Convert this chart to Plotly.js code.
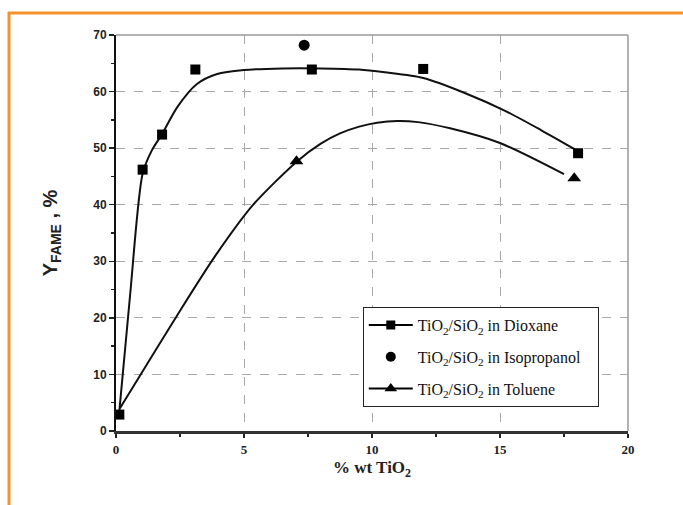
<!DOCTYPE html>
<html>
<head>
<meta charset="utf-8">
<script src="https://cdn.plot.ly/plotly-3.0.1.min.js"></script>
<style>html,body{margin:0;padding:0;background:#fff;}#chart{width:683px;height:505px;}</style>
</head>
<body>
<div id="chart"></div>
<script>
// Measured data points
const dioxaneX = [0.13, 1.04, 1.8, 3.1, 7.65, 12.0, 18.05];
const dioxaneY = [2.9, 46.2, 52.4, 63.9, 63.9, 64.0, 49.1];
const isopropanolX = [7.35];
const isopropanolY = [68.2];
const tolueneX = [7.05, 17.9];
const tolueneY = [47.7, 44.7];

// Fitted curves
const dioxaneFitX = [0.13, 0.55, 1.04, 1.4, 1.8, 2.4, 3.15, 3.95, 5.0, 6.5, 8.0, 9.5, 10.5, 12.0, 13.6, 15.2, 16.6, 18.0];
const dioxaneFitY = [3.5, 24.0, 45.5, 49.6, 52.5, 57.3, 61.3, 63.1, 63.8, 64.1, 64.1, 63.9, 63.4, 62.4, 59.8, 56.6, 53.2, 49.6];
const tolueneFitX = [0.15, 2.37, 3.87, 5.36, 7.08, 8.0, 8.75, 9.5, 10.2, 11.0, 11.8, 13.05, 15.0, 17.5];
const tolueneFitY = [4.0, 20.3, 30.9, 40.0, 47.7, 50.8, 52.6, 53.8, 54.5, 54.8, 54.6, 53.5, 50.9, 45.4];

const legendNames = [
  'TiO<sub>2</sub>/SiO<sub>2</sub> in Dioxane',
  'TiO<sub>2</sub>/SiO<sub>2</sub> in Isopropanol&nbsp;&nbsp;&nbsp;',
  'TiO<sub>2</sub>/SiO<sub>2</sub> in Toluene'
];
const xTicks = [0, 5, 10, 15, 20];
const yTicks = [0, 10, 20, 30, 40, 50, 60, 70];

const fitLine = {color: '#111', width: 2, shape: 'spline', smoothing: 0.75};
const traces = [
  {x: dioxaneFitX, y: dioxaneFitY, mode: 'lines', line: fitLine, showlegend: false, hoverinfo: 'skip'},
  {x: tolueneFitX, y: tolueneFitY, mode: 'lines', line: fitLine, showlegend: false, hoverinfo: 'skip'},
  {x: dioxaneX, y: dioxaneY, mode: 'markers', marker: {symbol: 'square', size: 10, color: '#000'}, showlegend: false, cliponaxis: false},
  {x: isopropanolX, y: isopropanolY, mode: 'markers', marker: {symbol: 'circle', size: 11, color: '#000'}, showlegend: false, cliponaxis: false},
  {x: tolueneX, y: tolueneY, mode: 'markers', marker: {symbol: 'triangle-up', size: 12, color: '#000'}, showlegend: false, cliponaxis: false},
  // legend entries
  {x: [null], y: [null], name: legendNames[0], mode: 'lines+markers', line: {color: '#000', width: 2}, marker: {symbol: 'square', size: 9, color: '#000'}, legendgroup: 'a'},
  {x: [null], y: [null], name: legendNames[1], mode: 'markers', marker: {symbol: 'circle', size: 10, color: '#000'}, legendgroup: 'b'},
  {x: [null], y: [null], name: legendNames[2], mode: 'lines+markers', line: {color: '#000', width: 2}, marker: {symbol: 'triangle-up', size: 11, color: '#000'}, legendgroup: 'c'}
];

const orange = '#F5922A';
const layout = {
  width: 683, height: 505,
  margin: {l: 116, r: 55, t: 35, b: 74},
  paper_bgcolor: '#fff', plot_bgcolor: '#fff',
  showlegend: true,
  legend: {
    x: 0.482, y: 0.313, xanchor: 'left', yanchor: 'top',
    bgcolor: '#fff', bordercolor: '#222', borderwidth: 1,
    font: {family: 'Liberation Serif', size: 16, color: '#111'},
    itemwidth: 44, traceorder: 'grouped', tracegroupgap: 8
  },
  xaxis: {
    range: [0, 20], tickvals: xTicks, ticktext: xTicks.map(String),
    showgrid: true, gridcolor: '#a8a8a8', griddash: 'dash', gridwidth: 1,
    zeroline: false, showline: true, linecolor: '#333', linewidth: 3,
    ticks: 'outside', ticklen: 4, tickwidth: 2, tickcolor: '#222',
    minor: {dtick: 2.5, ticks: 'outside', ticklen: 3, tickwidth: 2, tickcolor: '#222', showgrid: false},
    tickfont: {family: 'Liberation Serif', size: 13, color: '#222', weight: 'bold'},
    title: {text: '% wt TiO<sub>2</sub>', font: {family: 'Liberation Serif', size: 17, color: '#222', weight: 'bold'}, standoff: 6},
    fixedrange: true
  },
  yaxis: {
    range: [0, 70], tickvals: yTicks, ticktext: yTicks.map(String),
    showgrid: true, gridcolor: '#a8a8a8', griddash: 'dash', gridwidth: 1,
    zeroline: false, showline: true, linecolor: '#111', linewidth: 2,
    ticks: 'outside', ticklen: 5, tickwidth: 1.5, tickcolor: '#222',
    minor: {dtick: 5, ticks: 'outside', ticklen: 3, tickwidth: 1.5, tickcolor: '#222', showgrid: false},
    tickfont: {family: 'Liberation Sans', size: 12, color: '#222', weight: 'bold'},
    title: {text: 'Y<sub>FAME</sub> , %', font: {family: 'Liberation Sans', size: 20, color: '#222', weight: 'bold'}, standoff: 30},
    fixedrange: true
  },
  shapes: [
    {type: 'line', xref: 'paper', yref: 'paper', x0: 0, x1: 1, y0: 1, y1: 1, line: {color: '#999', width: 1.5}},
    {type: 'line', xref: 'paper', yref: 'paper', x0: 1, x1: 1, y0: 0, y1: 1, line: {color: '#999', width: 1.5}},
    {type: 'line', xref: 'paper', yref: 'paper', x0: (8 - 116) / 512, x1: (690 - 116) / 512, y0: (431 - 13) / 396, y1: (431 - 13) / 396, line: {color: orange, width: 3}},
    {type: 'line', xref: 'paper', yref: 'paper', x0: (9 - 116) / 512, x1: (9 - 116) / 512, y0: (431 - 12) / 396, y1: (431 - 520) / 396, line: {color: orange, width: 3}}
  ]
};

Plotly.newPlot('chart', traces, layout, {displayModeBar: false, staticPlot: true});
</script>
</body>
</html>
